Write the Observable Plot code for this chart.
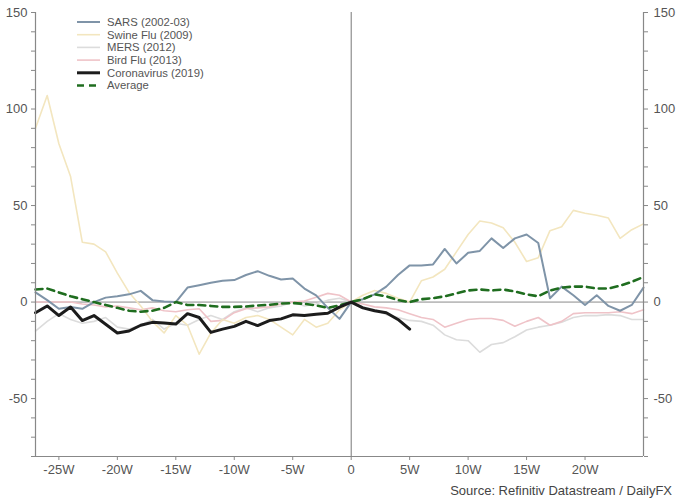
<!DOCTYPE html>
<html>
<head>
<meta charset="utf-8">
<script src="https://cdn.jsdelivr.net/npm/d3@7"></script>
<script src="https://cdn.jsdelivr.net/npm/@observablehq/plot@0.6"></script>
<style>
  html, body { margin: 0; padding: 0; background: #fff; font-family: "Liberation Sans", Arial, sans-serif; }
  #chart { width: 680px; }
  #caption { width: 672px; text-align: right; font-size: 13px; color: #444; line-height: 17px; padding-right: 8px; font-family: "Liberation Sans", Arial, sans-serif; }
</style>
</head>
<body>
<div id="chart"></div>
<div id="caption">Source: Refinitiv Datastream / DailyFX</div>
<script>
const weeks = d3.range(-27, 26);
const coronaWeeks = d3.range(-27, 6);

const sars = [5, 1, -3.5, -2.6, -3.5, 0, 2.3, 3, 4, 5.8, 1, 0.3, 0, 7.5, 8.7, 10, 11, 11.4, 14, 16, 13.6, 11.7, 12.2, 7, 3.5, -3, -8.7,
  0, 1.5, 4, 8, 14, 19, 19, 19.5, 27.5, 20, 25.5, 26.5, 33, 28, 33, 35, 30.6, 2, 8, 3.5, -1.5, 3.5, -2, -4.5, -1.5, 7.5];
const swineFlu = [90, 107, 82, 65, 31, 30, 26, 15, 5, -2, -10, -16, -7, -12, -27, -16, -9, -11, -8, -7, -9, -13, -17, -9, -13, -11, -4,
  0, 3.5, 6, 4.5, 2, 0, 11, 13, 17, 26, 35, 42, 41, 38.5, 31, 21, 23, 37, 39, 47.5, 46, 45, 43.5, 33, 37.5, 40.5];
const mers = [-15, -10, -6, -9, -11, -10, -8, -13, -14, -12, -9, -14, -11, -12, -9, -7, -9, -5, -3, -5, -3, -2, 0, -2, -1, 1, 2,
  0, -2.5, -4, -6.5, -8, -9.5, -10, -12, -17, -19.5, -20, -26, -22, -21, -18, -14.5, -13, -12, -10.5, -8, -7, -7, -6.5, -7, -9, -9];
const birdFlu = [0, 0, 0, 0, -1, -1.5, -2.5, -2, -3, -4, -3, -4.5, -5, -4, -3.5, -10, -9.5, -5.5, -3.5, -3, -2.5, -1, 0, 0.5, 2.5, 4.5, 3.5,
  0, -1, -2.5, -3, -4, -6, -8, -9, -13, -11, -9, -8.5, -8.5, -9.5, -12.5, -10, -8, -12, -10, -6, -5.5, -5.5, -5.5, -5, -6, -4];
const coronavirus = [-5.5, -2, -7, -2.6, -9.6, -7, -11.5, -16, -15, -12, -10.5, -10.8, -11.4, -6, -8, -15.7, -14, -12.6, -10, -12.2, -9.6, -8.7, -6.6, -7, -6.3, -5.8, -2.6,
  0, -3, -4.5, -5.5, -9, -14];
const average = [6.5, 7, 5, 3, 1.5, 0, -1.5, -3, -4.5, -5, -4.5, -3, 0, -1.5, -1.5, -2, -2.5, -2.5, -2.3, -1.8, -1.4, -0.8, -0.5, -0.9, -1.7, -3, -1.7,
  0, 1.5, 4, 3, 1, 0, 1.5, 2, 3, 4.5, 6, 6.5, 6, 6.5, 5.5, 4, 3, 6, 7.5, 8, 8, 7, 7, 8.5, 10.5, 13];

const seriesNames = ["SARS (2002-03)", "Swine Flu (2009)", "MERS (2012)", "Bird Flu (2013)", "Coronavirus (2019)", "Average"];
const xTicks = [-25, -20, -15, -10, -5, 0, 5, 10, 15, 20];
const yTicks = d3.range(-80, 151, 10);
const yLabels = [-50, 0, 50, 100, 150];

const styles = [
  {stroke: "#7f94a8", strokeWidth: 2},
  {stroke: "#f3e6bf", strokeWidth: 1.6},
  {stroke: "#dcdcdc", strokeWidth: 1.6},
  {stroke: "#efc3c8", strokeWidth: 1.6},
  {stroke: "#1c1c1c", strokeWidth: 3},
  {stroke: "#1f6d1f", strokeWidth: 2.6, strokeDasharray: "7,5"}
];

const toRows = (xs, ys) => xs.map((w, i) => ({w, v: ys[i]}));
const rows = [
  toRows(weeks, sars),
  toRows(weeks, swineFlu),
  toRows(weeks, mers),
  toRows(weeks, birdFlu),
  toRows(coronaWeeks, coronavirus),
  toRows(weeks, average)
];
const drawOrder = [2, 3, 1, 0, 5, 4];

const fmtX = d => d === 0 ? "0" : d + "W";
const fmtY = d => yLabels.includes(d) ? String(d) : "";

const plot = Plot.plot({
  width: 680,
  height: 482,
  marginLeft: 35,
  marginRight: 37,
  marginTop: 12,
  marginBottom: 26,
  style: {fontFamily: "Liberation Sans, Arial, sans-serif", fontSize: "13px", background: "#fff"},
  x: {domain: [-27, 25]},
  y: {domain: [-80, 150]},
  marks: [
    Plot.ruleY([0], {x1: -27, x2: 25, stroke: "#8a8a8a", strokeWidth: 1}),
    Plot.ruleX([0], {y1: -80, y2: 150, stroke: "#777", strokeWidth: 1}),
    ...drawOrder.map(i => Plot.line(rows[i], {x: "w", y: "v", ...styles[i], strokeLinejoin: "round"})),
    Plot.ruleX([-27], {y1: -80, y2: 150, stroke: "#888", strokeWidth: 1.2}),
    Plot.ruleX([25], {y1: -80, y2: 150, stroke: "#888", strokeWidth: 1.2}),
    Plot.ruleY([-80], {x1: -27, x2: 25, stroke: "#888", strokeWidth: 1.2}),
    Plot.axisY({anchor: "left", ticks: yTicks, tickFormat: fmtY, tickSize: 4, tickPadding: 4, stroke: "#888", fill: "#555", label: null}),
    Plot.axisY({anchor: "right", ticks: yTicks, tickFormat: fmtY, tickSize: 4, tickPadding: 6, stroke: "#888", fill: "#555", label: null}),
    Plot.axisX({anchor: "bottom", ticks: xTicks, tickFormat: fmtX, tickSize: 4, tickPadding: 4, stroke: "#888", fill: "#555", label: null})
  ]
});

// Legend (inside plot area, top-left)
const svg = d3.select(plot);
const lg = svg.append("g")
  .attr("font-family", "Liberation Sans, Arial, sans-serif")
  .attr("font-size", "11.3px")
  .attr("text-anchor", "start")
  .attr("fill", "#555");
seriesNames.forEach((name, i) => {
  const y = 22 + i * 12.7;
  const st = styles[i];
  lg.append("line")
    .attr("x1", 77).attr("x2", 100).attr("y1", y).attr("y2", y)
    .attr("stroke", st.stroke).attr("stroke-width", st.strokeWidth)
    .attr("stroke-dasharray", st.strokeDasharray || null);
  lg.append("text").attr("x", 107).attr("y", y).attr("dy", "0.35em").attr("text-anchor", "start").text(name);
});

document.getElementById("chart").appendChild(plot);
</script>
</body>
</html>
